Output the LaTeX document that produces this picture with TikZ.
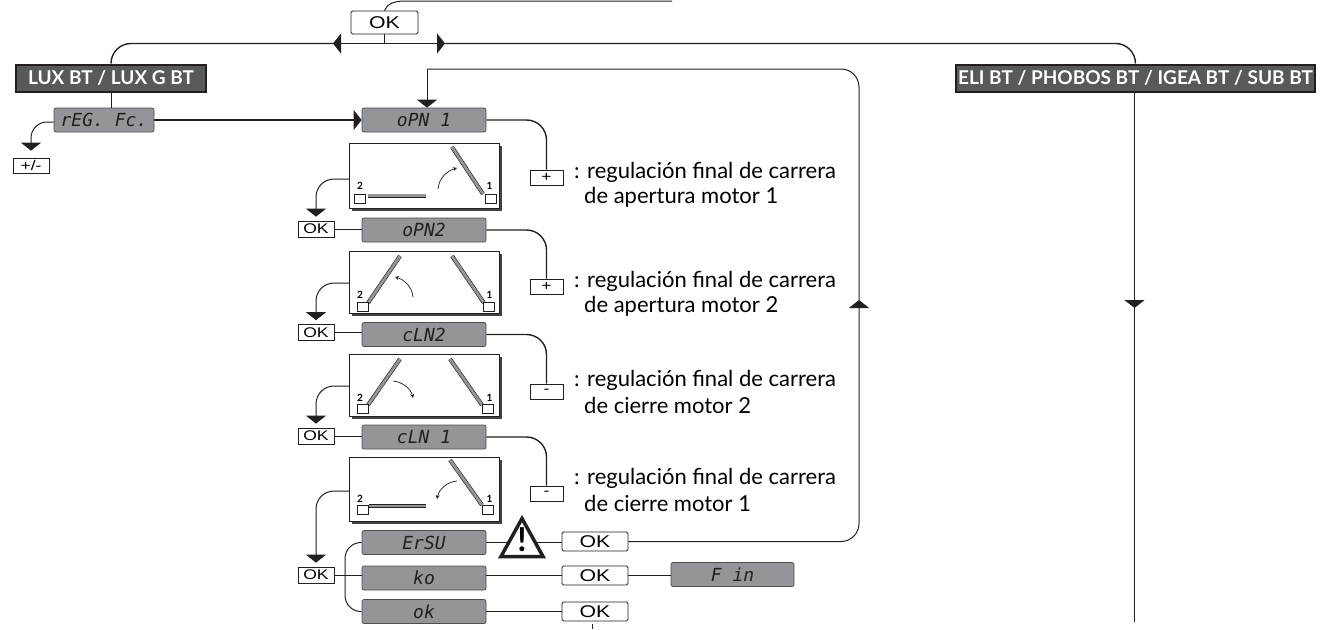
\documentclass[tikz,border=0pt]{standalone}
\usepackage{fontspec}
\usetikzlibrary{arrows.meta,shadows}
\setmainfont{Lato}
\newfontfamily\lcdfont{DejaVu Sans Mono}
\newfontfamily\keyfont[FakeStretch=1.25]{Liberation Sans}
\definecolor{lcdgray}{HTML}{939598}
\definecolor{bandgray}{HTML}{58595B}
\definecolor{inkline}{HTML}{231F20}

\tikzset{
  wire/.style={draw=inkline,line width=1pt,rounded corners=18pt},
  buswire/.style={wire,line width=1.4pt,rounded corners=20pt},
  tip/.style={-{Triangle[width=20pt,length=8pt]}},
  lcd/.style={draw=inkline!80,fill=lcdgray,rounded corners=2pt,minimum width=124pt,minimum height=24pt,
    inner sep=0pt,line width=.7pt,text=inkline,font=\lcdfont\itshape\fontsize{18}{18}\selectfont},
  band/.style={draw=inkline,fill=bandgray,line width=2pt,minimum height=27pt,inner sep=0pt,
    text=white,font=\bfseries\fontsize{19}{19}\selectfont},
  bigok/.style={draw=inkline,fill=white,rounded corners=1.5pt,minimum width=66pt,minimum height=19pt,
    inner sep=0pt,line width=.8pt,font=\keyfont\fontsize{17}{17}\selectfont},
  smallok/.style={draw=inkline,fill=white,minimum width=36pt,minimum height=16pt,
    inner sep=0pt,line width=.7pt,font=\keyfont\fontsize{14}{14}\selectfont},
  panel/.style={draw=inkline,fill=white,minimum width=150pt,line width=.8pt,
    drop shadow={shadow xshift=2.5pt,shadow yshift=-2.5pt,fill=inkline!85,opacity=1}},
  hinge/.style={draw=inkline,fill=white,minimum width=11pt,minimum height=9pt,inner sep=0pt,line width=.6pt},
  leaf/.style={draw=inkline,double=lcdgray,double distance=2.8pt,line width=.6pt},
  swing/.style={draw=inkline,line width=.7pt,-{Stealth[length=4pt,width=4pt]}},
  num/.style={inner sep=0pt,font=\bfseries\fontsize{10}{10}\selectfont},
  note/.style={anchor=west,inner sep=0pt,font=\fontsize{22}{22}\selectfont}
}

\begin{document}
\begin{tikzpicture}[x=1pt,y=-1pt]
  \useasboundingbox (0,0) rectangle (1332,629);

  % top of the tree
  \node[bigok,minimum width=67pt,minimum height=23pt] (okroot) at (384.5,22.5) {OK};
  \node[band,minimum width=190pt] (lux) at (111,78) {LUX BT / LUX G BT};
  \node[band,minimum width=359pt] (eli) at (1135.5,78) {ELI BT / PHOBOS BT / IGEA BT / SUB BT};

  \coordinate (topbend) at (405,1);
  \coordinate (topend) at (672,1);
  \coordinate (busleft) at (333,43.5);
  \coordinate (busright) at (445,43.5);
  \coordinate (busmid) at (384.5,43.5);
  \draw[wire,rounded corners=0pt] (okroot.north) .. controls (387,4) and (394,1) .. (topbend) -- (topend);
  \draw[buswire] (okroot.south) -- (busmid);
  \draw[buswire,tip] (busmid) -- (busleft);
  \draw[buswire,tip] (busmid) -- (busright);
  \draw[buswire] (busleft) -| (lux.north);
  \draw[buswire] (busright) -| (eli.north);

  % displays
  \node[lcd,minimum width=100pt] (regfc) at (104,120) {rEG. Fc.};
  \node[lcd] (opna) at (424,120) {oPN 1};
  \node[lcd] (opnb) at (424,230) {oPN2};
  \node[lcd] (clnb) at (424,334.5) {cLN2};
  \node[lcd] (clna) at (424,437) {cLN 1};
  \node[lcd] (ersu) at (424,542.5) {ErSU};
  \node[lcd] (ko) at (424,578) {ko};
  \node[lcd] (ok) at (424,611.5) {ok};
  \node[lcd,minimum width=123pt] (fin) at (732.5,574.5) {F in};

  % small keys
  \node[smallok,minimum height=15pt] (plusminus) at (31,165.5) {+/-};
  \node[smallok] (okb) at (316,229) {OK};
  \node[smallok] (okc) at (316,332.5) {OK};
  \node[smallok] (okd) at (316,436) {OK};
  \node[smallok] (oke) at (316,575) {OK};
  \node[smallok,minimum width=33pt,minimum height=15pt] (plusa) at (546.5,177.5) {+};
  \node[smallok,minimum width=33pt,minimum height=15pt] (plusb) at (546.5,286.5) {+};
  \node[smallok,minimum width=33pt,minimum height=15pt] (minusb) at (546.5,391.5) {-};
  \node[smallok,minimum width=33pt,minimum height=15pt] (minusa) at (546.5,493.5) {-};
  \node[bigok] (oka) at (595,541.5) {OK};
  \node[bigok] (okko) at (595,575.5) {OK};
  \node[bigok] (okok) at (595,611.5) {OK};

  % gate panels
  \node[panel,minimum height=65pt] (gatea) at (424.5,175.5) {};
  \node[panel,minimum height=62pt] (gateb) at (424.5,282) {};
  \node[panel,minimum height=62pt] (gatec) at (424.5,385) {};
  \node[panel,minimum height=64pt] (gated) at (424.5,489) {};

  \draw[leaf] (368,195.5) -- (426,195.5);
  \draw[leaf] (483,194) -- (452,147);
  \node[hinge] (hingea) at (359.5,198.5) {};
  \node[hinge] (hingeb) at (490.5,198.5) {};
  \node[num] (numa) at (360,186) {2};
  \node[num] (numb) at (489.5,186) {1};
  \draw[swing] (438,189) .. controls (439,178) and (447,171) .. (457,168);

  \draw[leaf] (368,303) -- (400,256);
  \draw[leaf] (484,303) -- (452,256);
  \node[hinge] (hingec) at (362.5,306.5) {};
  \node[hinge] (hinged) at (488.5,306.5) {};
  \node[num] (numc) at (360,295) {2};
  \node[num] (numd) at (489.5,295) {1};
  \draw[swing] (413,297) .. controls (412,287) and (405,280) .. (395,277);

  \draw[leaf] (368,405) -- (400,359);
  \draw[leaf] (482,405) -- (450,359);
  \node[hinge] (hingee) at (362.5,408.5) {};
  \node[hinge] (hingef) at (487.5,408.5) {};
  \node[num] (nume) at (360,398) {2};
  \node[num] (numf) at (489.5,398) {1};
  \draw[swing] (393,381) .. controls (403,382) and (411,389) .. (413,398);

  \draw[leaf] (369,506) -- (426,506);
  \draw[leaf] (482,505) -- (450,460);
  \node[hinge] (hingeg) at (362.5,509.5) {};
  \node[hinge] (hingeh) at (487.5,509.5) {};
  \node[num] (numg) at (360,499) {2};
  \node[num] (numh) at (489.5,499) {1};
  \draw[swing] (457,481) .. controls (447,482) and (439,489) .. (437,499);

  % left side
  \draw[wire] (lux.south) -- (lux.south |- regfc.north);
  \draw[buswire,tip] (regfc.east) -- (opna.west);
  \draw[wire,tip,shorten >=7pt,rounded corners=16pt] ([yshift=-2pt]regfc.west) -| (plusminus.north);
  \draw[wire,tip,shorten >=4pt] ([yshift=-3.5pt]gatea.west) -| (okb.north);
  \draw[wire,tip,shorten >=4pt] ([yshift=-1pt]gateb.west) -| (okc.north);
  \draw[wire,tip,shorten >=4pt] ([yshift=-1pt]gatec.west) -| (okd.north);
  \draw[wire,tip,shorten >=4pt] ([yshift=-2pt]gated.west) -| (oke.north);
  \draw[wire] (okb.east) -- (okb.east -| opnb.west);
  \draw[wire] (okc.east) -- (okc.east -| clnb.west);
  \draw[wire] (okd.east) -- (okd.east -| clna.west);
  \draw[wire] (oke.east) -- (oke.east -| ko.west);
  \coordinate (bracket) at (345,575);
  \draw[wire,rounded corners=16pt] (ersu.west) -| (bracket) |- (ok.west);

  % keys on the right
  \draw[buswire] (opna.east) -| (plusa.north);
  \draw[buswire] (opnb.east) -| (plusb.north);
  \draw[buswire] (clnb.east) -| (minusb.north);
  \draw[buswire] (clna.east) -| (minusa.north);

  \node[note] (notea) at (574,172) {: regulación final de carrera};
  \node[note] (noteb) at (584,197) {de apertura motor 1};
  \node[note] (notec) at (574,281) {: regulación final de carrera};
  \node[note] (noted) at (584,306) {de apertura motor 2};
  \node[note] (notee) at (574,380) {: regulación final de carrera};
  \node[note] (notef) at (584,405) {de cierre motor 2};
  \node[note] (noteg) at (574,478) {: regulación final de carrera};
  \node[note] (noteh) at (584,503) {de cierre motor 1};

  % bottom rows
  \draw[buswire] (ersu.east) -- (ersu.east -| oka.west);
  \draw[line width=3.5pt,draw=inkline,fill=white,line join=miter] (522,518.5) -- (543,556.5) -- (501,556.5) -- cycle;
  \node[inner sep=0pt,font=\bfseries\fontsize{33}{33}\selectfont] (warn) at (522,540) {!};
  \draw[buswire] (ko.east |- okko.west) -- (okko.west);
  \draw[buswire] (okko.east) -- (okko.east -| fin.west);
  \draw[buswire] (ok.east) -- (okok.west);
  \coordinate (stub) at (592,629);
  \draw[wire,shorten <=3pt] (okok.south -| stub) -- (stub);

  % return line and right branch
  \coordinate (fbup) at (859,300);
  \coordinate (fbtop) at (427,69);
  \draw[wire,tip] (oka.east) -| (fbup);
  \draw[wire] (fbup) |- (fbtop);
  \draw[wire,tip] (fbtop) -- ([xshift=3pt]opna.north);

  \coordinate (elimid) at (1134.5,308);
  \coordinate (eliend) at (1134.5,622);
  \draw[wire,tip] (eli.south -| elimid) -- (elimid);
  \draw[wire] (elimid) -- (eliend);
\end{tikzpicture}
\end{document}
